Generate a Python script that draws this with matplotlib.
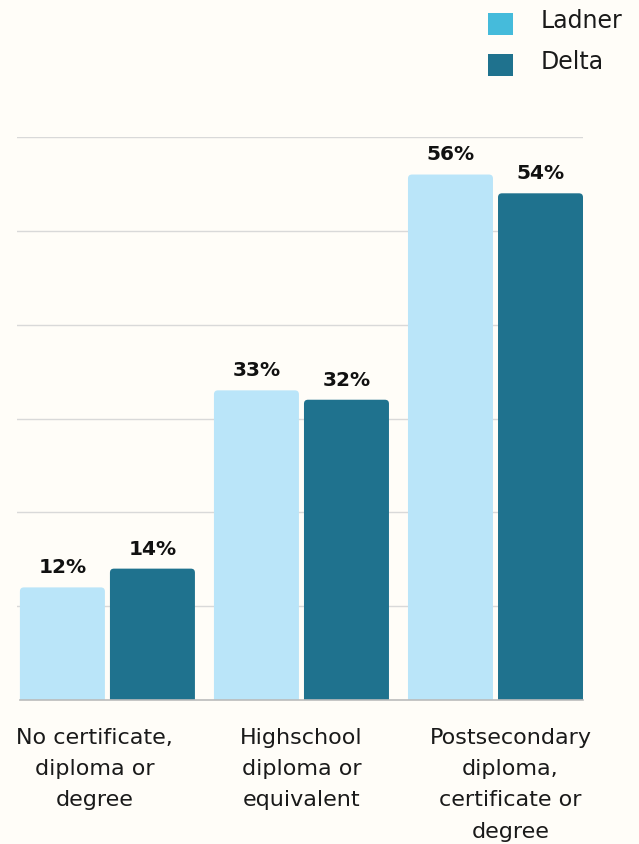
import numpy as np
import matplotlib.pyplot as plt
from matplotlib.patches import FancyBboxPatch, Rectangle
from matplotlib.transforms import ScaledTranslation

# Niveau de scolarité, Ladner vs Delta (%)
categories = ["No certificate,\ndiploma or\ndegree",
              "Highschool\ndiploma or\nequivalent",
              "Postsecondary\ndiploma,\ncertificate or\ndegree"]
ladner = [12, 33, 56]
delta = [14, 32, 54]
series_names = ["Ladner", "Delta"]

bar_colors = ["#BAE5F9", "#1F728E"]
legend_colors = ["#45BBDB", "#1F728E"]
bg = "#FFFDF8"
font = "DejaVu Sans"

W, H = 639, 845
fig = plt.figure(figsize=(W / 100, H / 100), dpi=100, facecolor=bg)
ax = fig.add_axes([17 / W, 1 - 701 / H, (583 - 17) / W, (701 - 138) / H])
ax.set_facecolor(bg)

x = np.arange(len(categories))
width = 0.438
offset = 0.232
ax.set_xlim(-0.466, 2.451)
ax.set_ylim(0, 60)

# coins arrondis : rayon en unités x, mis à l'échelle en y
px_x = (583 - 17) / (2.451 + 0.466)
px_y = (701 - 138) / 60
r = 4 / px_x
aspect = px_x / px_y

for vals, col, dx in [(ladner, bar_colors[0], -offset), (delta, bar_colors[1], offset)]:
    for xi, v in zip(x, vals):
        p = FancyBboxPatch((xi + dx - width / 2, -2), width, v + 2,
                           boxstyle=f"round,pad=0,rounding_size={r}",
                           mutation_aspect=aspect, fc=col, ec="none", zorder=3)
        ax.add_patch(p)
        ax.annotate(f"{v}%", (xi + dx, v), xytext=(0, 8), textcoords="offset points",
                    ha="center", va="bottom", fontsize=14.5, fontweight="bold",
                    family=font, color="#111111", zorder=4)

# grille
for gy in range(10, 61, 10):
    ax.axhline(gy, color="#D9D9D9", lw=1, zorder=1)
ax.plot([-0.451, 2.451], [0, 0], color="#BBBBBB", lw=1.2, zorder=5, clip_on=False)

for s in ax.spines.values():
    s.set_visible(False)
ax.set_yticks([])
ax.set_xticks(x)
ax.set_xticklabels(categories, fontsize=16, family=font, color="#1A1A1A",
                   linespacing=1.7)
ax.tick_params(axis="x", length=0, pad=19.5)
shifts = [-13, 0, 15]
for lab, s in zip(ax.get_xticklabels(), shifts):
    lab.set_transform(lab.get_transform() + ScaledTranslation(s / 100, 0, fig.dpi_scale_trans))

# légende
for i, (name, col) in enumerate(zip(series_names, legend_colors)):
    top = 14 + i * 41
    fig.patches.append(Rectangle((488 / W, 1 - (top + 22) / H), 25 / W, 22 / H,
                                 transform=fig.transFigure, fc=col, ec="none"))
    fig.text(541 / W, 1 - (top + 7) / H, name, fontsize=17, family=font,
             color="#1A1A1A", va="center", ha="left")

fig.savefig("out.png", dpi=100, facecolor=bg)
